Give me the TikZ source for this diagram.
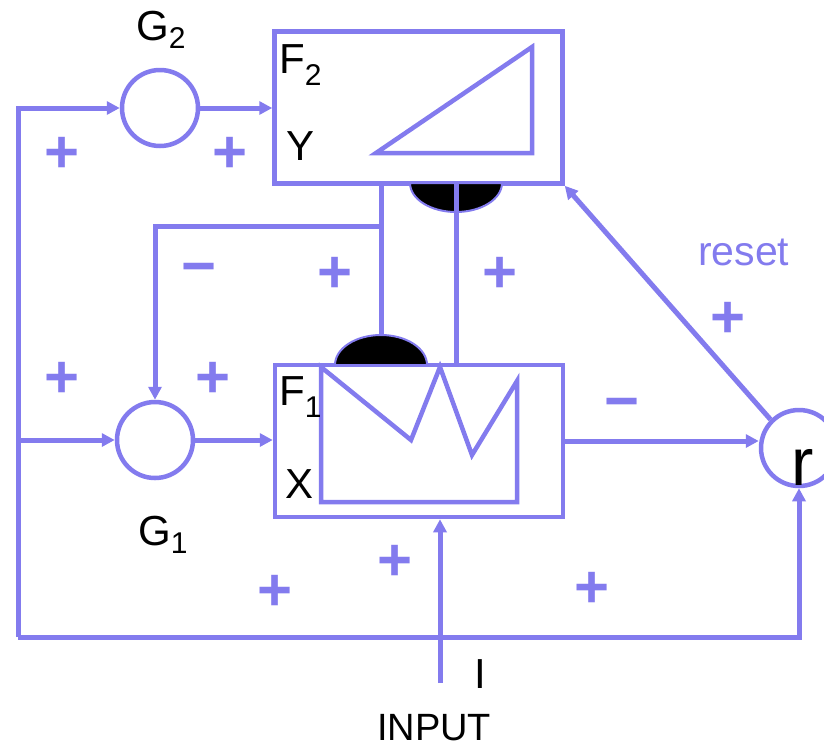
\documentclass[tikz,border=0pt]{standalone}
\usepackage{fontspec}
\setmainfont{Liberation Sans}
\usetikzlibrary{positioning,arrows.meta,calc}
\definecolor{artblue}{RGB}{131,123,238}
\newcommand{\lowidx}[2][10pt]{\raisebox{-#1}{\fontsize{30}{30}\selectfont #2}}

\begin{document}
\begin{tikzpicture}[x=1pt,y=-1pt,
    box/.style={draw=artblue,line width=4.5pt,minimum width=288pt,minimum height=152pt,inner sep=0pt},
    sum/.style={draw=artblue,line width=4.5pt,circle,minimum size=76pt,inner sep=0pt},
    arr/.style={-{Triangle[length=13pt,width=13pt]},artblue,line width=5pt},
    wire/.style={artblue,line width=5pt},
    glyph/.style={artblue,line width=4.5pt,line join=miter},
    weightcap/.style={fill=black,draw=artblue,line width=2pt},
    lbl/.style={font=\fontsize{42}{42}\selectfont,inner sep=0pt,anchor=base west},
    sign/.style={font=\fontsize{60}{60}\selectfont\bfseries,text=artblue,inner sep=0pt}
  ]
    \useasboundingbox (0,0) rectangle (824,748);

    % layers F2 and F1
    \node[box] (F2) at (418.5,107.5) {};
    \node[box] (F1) at (419,441) {};
    \draw[glyph] (376,153) -- (532,47) -- (532,153) -- cycle;
    \draw[glyph] (321,367) -- (411,440) -- (440,367) -- (472,455) -- (517,381)
      -- (517,502) -- (321,502) -- cycle;

    % gain control and reset units
    \node[sum] (G2) at (160,108) {};
    \node[sum] (G1) at (155,440) {};
    \node[sum] (rsum) at (799,448) {};

    % labels
    \node[lbl] (G2lbl) at (136,40) {G\lowidx[8pt]{2}};
    \node[lbl] (G1lbl) at (138,545) {G\lowidx[8pt]{1}};
    \node[lbl] (F2lbl) at (279,73) {F\lowidx[12pt]{2}};
    \node[lbl] (F1lbl) at (279,405) {F\lowidx[12pt]{1}};
    \node[lbl] (Ylbl) at (286,160) {Y};
    \node[lbl] (Xlbl) at (285,498) {X};
    \node[lbl] (Ilbl) at (474,688) {I};
    \node[lbl,font=\fontsize{38}{38}\selectfont] (inlbl) at (377,740) {INPUT};
    \node[lbl,font=\fontsize{41}{41}\selectfont,text=artblue] (resetlbl) at (698,265) {reset};
    \node[lbl,font=\fontsize{67}{67}\selectfont] (rlbl) at (791,485) {r};

    % outer feedback loop
    \coordinate (ltop) at (18,108);
    \coordinate (lbot) at (18,637);
    \draw[arr] (lbot) -- (ltop) -- (G2);
    \draw[arr] (ltop |- G1) -- (G1);
    \draw[arr] (lbot) -| (rsum);

    % forward paths
    \draw[arr] (G2) -- (G2 -| F2.west);
    \draw[arr] (G1) -- (G1 -| F1.west);
    \draw[arr] (F1.east) -- (F1.east -| rsum.west);
    \draw[arr] (rsum.135) -- (F2.south east);
    \coordinate (inp) at (440,683);
    \draw[arr] (inp) -- (inp |- F1.south);

    % adaptive weights between F1 and F2
    \coordinate (capA) at (381,365);
    \coordinate (capB) at (456,183);
    \coordinate (split) at (381,226);
    \draw[weightcap] ($(capA)+(-46,0)$) arc[start angle=180,end angle=360,x radius=46,y radius=30] -- cycle;
    \draw[weightcap] ($(capB)+(-46,0)$) arc[start angle=180,end angle=0,x radius=46,y radius=29] -- cycle;
    \draw[wire] (capA |- F2.south) -- ($(capA)+(0,-30)$);
    \draw[arr] (split) -| (G1);
    \draw[wire] (capB) -- (capB |- F1.north);

    % signs
    \foreach \pos in {(62,155),(230,155),(335,275),(500,275),(62,380),(213,380),
                      (728,320),(395,563),(275,593),(592,590)}
      \node[sign] at \pos {+};
    \node[sign] (minusG) at (199,275) {−};
    \node[sign] (minusr) at (622,410) {−};
  \end{tikzpicture}
\end{document}
